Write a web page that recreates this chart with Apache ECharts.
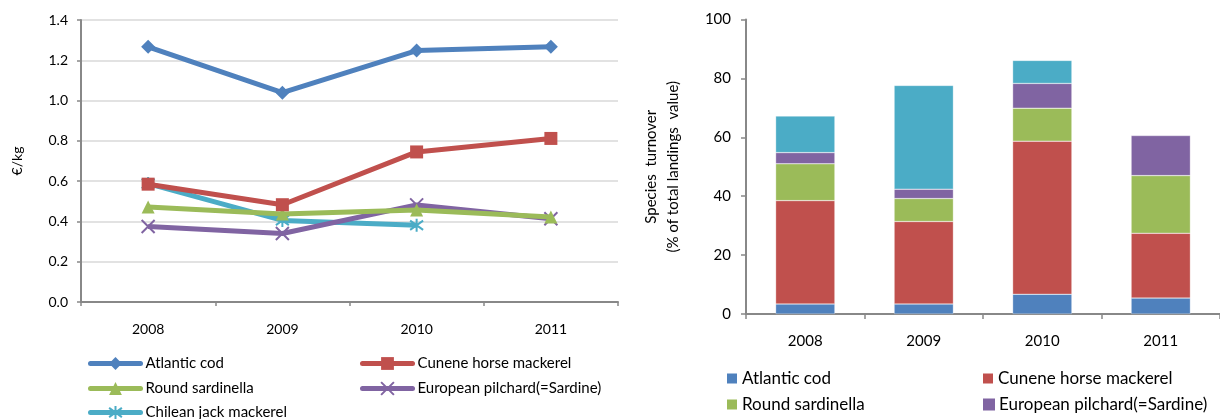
<!DOCTYPE html>
<html>
<head>
<meta charset="utf-8">
<style>
  html, body { margin: 0; padding: 0; background: #fff; }
  #chart { width: 1220px; height: 419px; }
</style>
<script src="https://cdn.jsdelivr.net/npm/echarts@6/dist/echarts.min.js"></script>
</head>
<body>
<div id="chart"></div>
<script>
// ---- data ----
const years = ['2008', '2009', '2010', '2011'];
const speciesNames = ['Atlantic cod', 'Cunene horse mackerel', 'Round sardinella', 'European pilchard(=Sardine)', 'Chilean jack mackerel'];
const colors = ['#4F81BD', '#C0504D', '#9BBB59', '#8064A2', '#4BACC6'];

// price (€/kg)
const priceAtlanticCod = [1.267, 1.039, 1.248, 1.267];
const priceCunene = [0.585, 0.483, 0.745, 0.812];
const priceRoundSardinella = [0.472, 0.437, 0.457, 0.422];
const priceEuropeanPilchard = [0.375, 0.340, 0.482, 0.413];
const priceChilean = [0.588, 0.405, 0.381, null];

// turnover share (% of total landings value), stacked segments
const shareAtlanticCod = [3.4, 3.4, 6.7, 5.4];
const shareCunene = [35.1, 28.0, 52.0, 22.0];
const shareRoundSardinella = [12.5, 7.8, 11.2, 19.6];
const shareEuropeanPilchard = [3.8, 3.2, 8.4, 13.6];
const shareChilean = [12.4, 35.2, 7.8, null];

const leftYTicks = { min: 0, max: 1.4, interval: 0.2 };
const rightYTicks = { min: 0, max: 100, interval: 20 };

const priceSeries = [priceAtlanticCod, priceCunene, priceRoundSardinella, priceEuropeanPilchard, priceChilean];
const shareSeries = [shareAtlanticCod, shareCunene, shareRoundSardinella, shareEuropeanPilchard, shareChilean];

// ---- styling ----
const FONT = 'Lato, "Open Sans", sans-serif';
const symbols = [
  'diamond',
  'rect',
  'triangle',
  'path://M0,0L10,10M10,0L0,10',
  'path://M0,0L10,10M10,0L0,10M5,-2L5,12'
];
const symbolSizes = [14, 13, 13, 13, 13];

const chart = echarts.init(document.getElementById('chart'), null, { renderer: 'canvas' });

const series = [];
priceSeries.forEach((d, i) => {
  const isStroke = i >= 3;
  series.push({
    name: speciesNames[i],
    type: 'line',
    xAxisIndex: 0,
    yAxisIndex: 0,
    data: d,
    symbol: symbols[i],
    symbolSize: symbolSizes[i],
    showAllSymbol: true,
    lineStyle: { width: 5, color: colors[i] },
    itemStyle: isStroke
      ? { color: colors[i], borderColor: colors[i], borderWidth: 2 }
      : { color: colors[i] },
    emphasis: { disabled: true },
    animation: false,
    z: 10 - i
  });
});
shareSeries.forEach((d, i) => {
  series.push({
    name: speciesNames[i],
    type: 'bar',
    xAxisIndex: 1,
    yAxisIndex: 1,
    stack: 'share',
    data: d,
    barWidth: '50%',
    itemStyle: { color: colors[i], borderColor: 'rgba(255,255,255,0.6)', borderWidth: 0.5 },
    emphasis: { disabled: true },
    animation: false
  });
});

function lineLegend(name, left, centerY) {
  return {
    data: [name],
    left: left, top: centerY - 8,
    itemWidth: 50, itemHeight: 16, itemGap: 0,
    lineStyle: { width: 5, cap: 'round' },
    textStyle: { fontFamily: FONT, fontSize: 15, color: '#000' },
    selectedMode: false, padding: 0
  };
}
function barLegend(name, left, centerY) {
  return {
    data: [{ name: name, icon: 'rect' }],
    left: left, top: centerY - 9,
    itemWidth: 10, itemHeight: 10, itemGap: 0,
    textStyle: { fontFamily: FONT, fontSize: 17, color: '#000' },
    selectedMode: false, padding: 0
  };
}

const option = {
  animation: false,
  textStyle: { fontFamily: FONT },
  grid: [
    { left: 81, top: 20, width: 537, height: 282, containLabel: false },
    { left: 746, top: 19.5, width: 484, height: 294.5, containLabel: false }
  ],
  xAxis: [
    {
      type: 'category', gridIndex: 0, data: years, boundaryGap: true,
      axisLine: { lineStyle: { color: '#888', width: 2 } },
      axisTick: { show: true, length: 4, inside: false, lineStyle: { color: '#888', width: 1.5 } },
      axisLabel: { fontFamily: FONT, fontSize: 14, color: '#000', margin: 20 }
    },
    {
      type: 'category', gridIndex: 1, data: years, boundaryGap: true,
      axisLine: { lineStyle: { color: '#888', width: 2 } },
      axisTick: { show: true, length: 5, lineStyle: { color: '#888', width: 1.5 } },
      axisLabel: { fontFamily: FONT, fontSize: 15, color: '#000', margin: 20 }
    }
  ],
  yAxis: [
    {
      type: 'value', gridIndex: 0,
      min: leftYTicks.min, max: leftYTicks.max, interval: leftYTicks.interval,
      name: '€/kg', nameLocation: 'middle', nameGap: 57, nameRotate: 90,
      nameTextStyle: { fontFamily: FONT, fontSize: 14, color: '#000' },
      axisLine: { show: true, lineStyle: { color: '#888', width: 2 } },
      axisTick: { show: true, length: 4, lineStyle: { color: '#888', width: 1.5 } },
      axisLabel: { fontFamily: FONT, fontSize: 14, color: '#000', margin: 13,
        formatter: v => v.toFixed(1) },
      splitLine: { show: true, lineStyle: { color: '#d9d9d9', width: 1.5 } }
    },
    {
      type: 'value', gridIndex: 1,
      min: rightYTicks.min, max: rightYTicks.max, interval: rightYTicks.interval,
      name: 'Species  turnover\n(% of total landings  value)', nameLocation: 'middle', nameGap: 62, nameRotate: 90,
      nameTextStyle: { fontFamily: FONT, fontSize: 15, color: '#000', lineHeight: 22 },
      axisLine: { show: true, lineStyle: { color: '#888', width: 2 } },
      axisTick: { show: true, length: 5, lineStyle: { color: '#888', width: 1.5 } },
      axisLabel: { fontFamily: FONT, fontSize: 15, color: '#000', margin: 15 },
      splitLine: { show: false }
    }
  ],
  legend: [
    lineLegend(speciesNames[0], 88, 364),
    lineLegend(speciesNames[2], 88, 389),
    lineLegend(speciesNames[4], 88, 413),
    lineLegend(speciesNames[1], 360, 364),
    lineLegend(speciesNames[3], 360, 389),
    barLegend(speciesNames[0], 727, 379),
    barLegend(speciesNames[2], 727, 405),
    barLegend(speciesNames[1], 983, 379),
    barLegend(speciesNames[3], 983, 405)
  ],
  series: series
};
chart.setOption(option);
</script>
</body>
</html>
